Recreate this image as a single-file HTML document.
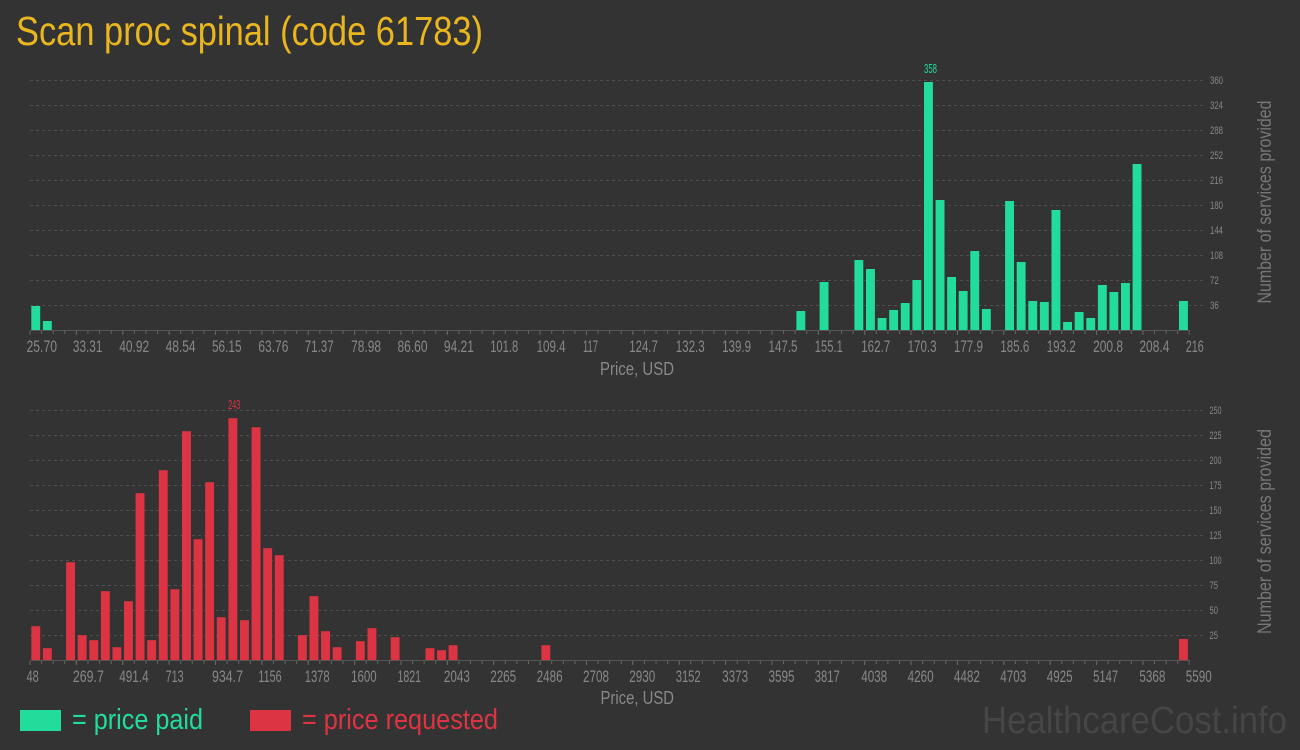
<!DOCTYPE html>
<html><head><meta charset="utf-8"><style>
html,body{margin:0;padding:0;background:#333333;}
svg{display:block;}
text{font-family:"Liberation Sans Narrow","Liberation Sans",sans-serif;}
</style></head><body>
<svg width="1300" height="750" viewBox="0 0 1300 750" xmlns="http://www.w3.org/2000/svg">
<rect width="1300" height="750" fill="#333333"/>
<text x="16" y="45" font-size="41" fill="#e9b61e" textLength="467" lengthAdjust="spacingAndGlyphs">Scan proc spinal (code 61783)</text>

<!-- TOP CHART -->
<g stroke="#4f4f4f" stroke-width="1" stroke-dasharray="3,3">
<line x1="30" y1="305.5" x2="1203" y2="305.5"/><line x1="30" y1="280.5" x2="1203" y2="280.5"/><line x1="30" y1="255.5" x2="1203" y2="255.5"/><line x1="30" y1="230.5" x2="1203" y2="230.5"/><line x1="30" y1="205.5" x2="1203" y2="205.5"/><line x1="30" y1="180.5" x2="1203" y2="180.5"/><line x1="30" y1="155.5" x2="1203" y2="155.5"/><line x1="30" y1="130.5" x2="1203" y2="130.5"/><line x1="30" y1="105.5" x2="1203" y2="105.5"/><line x1="30" y1="80.5" x2="1203" y2="80.5"/>
</g>
<g fill="#888" font-size="11">
<text x="1210" y="309" textLength="8.7" lengthAdjust="spacingAndGlyphs">36</text>
<text x="1210" y="284" textLength="8.7" lengthAdjust="spacingAndGlyphs">72</text>
<text x="1210" y="259" textLength="13" lengthAdjust="spacingAndGlyphs">108</text>
<text x="1210" y="234" textLength="13" lengthAdjust="spacingAndGlyphs">144</text>
<text x="1210" y="209" textLength="13" lengthAdjust="spacingAndGlyphs">180</text>
<text x="1210" y="184" textLength="13" lengthAdjust="spacingAndGlyphs">216</text>
<text x="1210" y="159" textLength="13" lengthAdjust="spacingAndGlyphs">252</text>
<text x="1210" y="134" textLength="13" lengthAdjust="spacingAndGlyphs">288</text>
<text x="1210" y="109" textLength="13" lengthAdjust="spacingAndGlyphs">324</text>
<text x="1210" y="84" textLength="13" lengthAdjust="spacingAndGlyphs">360</text>
</g>
<g fill="#21dc9a">
<rect x="31.3" y="306" width="8.9" height="24.5"/>
<rect x="42.9" y="321" width="8.9" height="9.5"/>
<rect x="796.4" y="311" width="8.9" height="19.5"/>
<rect x="819.6" y="282" width="8.9" height="48.5"/>
<rect x="854.4" y="260" width="8.9" height="70.5"/>
<rect x="866.0" y="269" width="8.9" height="61.5"/>
<rect x="877.6" y="318" width="8.9" height="12.5"/>
<rect x="889.2" y="310" width="8.9" height="20.5"/>
<rect x="900.8" y="303" width="8.9" height="27.5"/>
<rect x="912.4" y="280" width="8.9" height="50.5"/>
<rect x="924.0" y="82" width="8.9" height="248.5"/>
<rect x="935.6" y="200" width="8.9" height="130.5"/>
<rect x="947.1" y="277" width="8.9" height="53.5"/>
<rect x="958.7" y="291" width="8.9" height="39.5"/>
<rect x="970.3" y="251" width="8.9" height="79.5"/>
<rect x="981.9" y="309" width="8.9" height="21.5"/>
<rect x="1005.1" y="201" width="8.9" height="129.5"/>
<rect x="1016.7" y="262" width="8.9" height="68.5"/>
<rect x="1028.3" y="301" width="8.9" height="29.5"/>
<rect x="1039.9" y="302" width="8.9" height="28.5"/>
<rect x="1051.5" y="210" width="8.9" height="120.5"/>
<rect x="1063.1" y="322" width="8.9" height="8.5"/>
<rect x="1074.7" y="312" width="8.9" height="18.5"/>
<rect x="1086.3" y="318" width="8.9" height="12.5"/>
<rect x="1097.9" y="285" width="8.9" height="45.5"/>
<rect x="1109.4" y="292" width="8.9" height="38.5"/>
<rect x="1121.0" y="283" width="8.9" height="47.5"/>
<rect x="1132.6" y="164" width="8.9" height="166.5"/>
<rect x="1179.0" y="301" width="8.9" height="29.5"/>
</g>
<text x="924" y="73" font-size="13" fill="#21dc9a" textLength="13" lengthAdjust="spacingAndGlyphs">358</text>
<line x1="30" y1="330.5" x2="1190" y2="330.5" stroke="#555" stroke-width="1"/>
<line x1="30" y1="332.5" x2="1190" y2="332.5" stroke="#666" stroke-width="3" stroke-dasharray="1 10.593" transform="translate(-0.5,0)"/>
<line x1="30" y1="333" x2="1190" y2="333" stroke="#666" stroke-width="4" stroke-dasharray="1 45.372" transform="translate(-0.5,0)"/>
<g fill="#888" font-size="16.5">
<text x="26.5" y="352" textLength="30.5" lengthAdjust="spacingAndGlyphs">25.70</text>
<text x="72.9" y="352" textLength="29.5" lengthAdjust="spacingAndGlyphs">33.31</text>
<text x="119.2" y="352" textLength="30" lengthAdjust="spacingAndGlyphs">40.92</text>
<text x="165.6" y="352" textLength="30" lengthAdjust="spacingAndGlyphs">48.54</text>
<text x="212" y="352" textLength="29.5" lengthAdjust="spacingAndGlyphs">56.15</text>
<text x="258.4" y="352" textLength="30" lengthAdjust="spacingAndGlyphs">63.76</text>
<text x="304.7" y="352" textLength="29" lengthAdjust="spacingAndGlyphs">71.37</text>
<text x="351.1" y="352" textLength="30" lengthAdjust="spacingAndGlyphs">78.98</text>
<text x="397.5" y="352" textLength="30" lengthAdjust="spacingAndGlyphs">86.60</text>
<text x="443.9" y="352" textLength="30" lengthAdjust="spacingAndGlyphs">94.21</text>
<text x="490.2" y="352" textLength="28" lengthAdjust="spacingAndGlyphs">101.8</text>
<text x="536.6" y="352" textLength="29" lengthAdjust="spacingAndGlyphs">109.4</text>
<text x="583" y="352" textLength="15" lengthAdjust="spacingAndGlyphs">117</text>
<text x="629.3" y="352" textLength="28.5" lengthAdjust="spacingAndGlyphs">124.7</text>
<text x="675.7" y="352" textLength="29" lengthAdjust="spacingAndGlyphs">132.3</text>
<text x="722.1" y="352" textLength="29" lengthAdjust="spacingAndGlyphs">139.9</text>
<text x="768.5" y="352" textLength="29" lengthAdjust="spacingAndGlyphs">147.5</text>
<text x="814.8" y="352" textLength="28" lengthAdjust="spacingAndGlyphs">155.1</text>
<text x="861.2" y="352" textLength="29" lengthAdjust="spacingAndGlyphs">162.7</text>
<text x="907.6" y="352" textLength="29" lengthAdjust="spacingAndGlyphs">170.3</text>
<text x="953.9" y="352" textLength="29" lengthAdjust="spacingAndGlyphs">177.9</text>
<text x="1000.3" y="352" textLength="29" lengthAdjust="spacingAndGlyphs">185.6</text>
<text x="1046.7" y="352" textLength="29" lengthAdjust="spacingAndGlyphs">193.2</text>
<text x="1093.1" y="352" textLength="30" lengthAdjust="spacingAndGlyphs">200.8</text>
<text x="1139.4" y="352" textLength="30" lengthAdjust="spacingAndGlyphs">208.4</text>
<text x="1185.8" y="352" textLength="18" lengthAdjust="spacingAndGlyphs">216</text>
</g>
<text x="600" y="375" font-size="18" fill="#888" textLength="74" lengthAdjust="spacingAndGlyphs">Price, USD</text>
<text transform="translate(1271,202) rotate(-90)" text-anchor="middle" font-size="19" fill="#777" textLength="203" lengthAdjust="spacingAndGlyphs">Number of services provided</text>

<!-- BOTTOM CHART -->
<g stroke="#4f4f4f" stroke-width="1" stroke-dasharray="3,3">
<line x1="30" y1="635.5" x2="1203" y2="635.5"/><line x1="30" y1="610.5" x2="1203" y2="610.5"/><line x1="30" y1="585.5" x2="1203" y2="585.5"/><line x1="30" y1="560.5" x2="1203" y2="560.5"/><line x1="30" y1="535.5" x2="1203" y2="535.5"/><line x1="30" y1="510.5" x2="1203" y2="510.5"/><line x1="30" y1="485.5" x2="1203" y2="485.5"/><line x1="30" y1="460.5" x2="1203" y2="460.5"/><line x1="30" y1="435.5" x2="1203" y2="435.5"/><line x1="30" y1="410.5" x2="1203" y2="410.5"/>
</g>
<g fill="#888" font-size="11">
<text x="1209.5" y="639" textLength="8.5" lengthAdjust="spacingAndGlyphs">25</text>
<text x="1209.5" y="614" textLength="8.5" lengthAdjust="spacingAndGlyphs">50</text>
<text x="1209.5" y="589" textLength="8.5" lengthAdjust="spacingAndGlyphs">75</text>
<text x="1209.5" y="564" textLength="12" lengthAdjust="spacingAndGlyphs">100</text>
<text x="1209.5" y="539" textLength="12" lengthAdjust="spacingAndGlyphs">125</text>
<text x="1209.5" y="514" textLength="12" lengthAdjust="spacingAndGlyphs">150</text>
<text x="1209.5" y="489" textLength="12" lengthAdjust="spacingAndGlyphs">175</text>
<text x="1209.5" y="464" textLength="12" lengthAdjust="spacingAndGlyphs">200</text>
<text x="1209.5" y="439" textLength="12" lengthAdjust="spacingAndGlyphs">225</text>
<text x="1209.5" y="414" textLength="12" lengthAdjust="spacingAndGlyphs">250</text>
</g>
<g fill="#dc3442">
<rect x="31.3" y="626.2" width="8.9" height="34.3"/>
<rect x="42.9" y="648.2" width="8.9" height="12.3"/>
<rect x="66.1" y="562.2" width="8.9" height="98.3"/>
<rect x="77.7" y="635.2" width="8.9" height="25.3"/>
<rect x="89.3" y="640.2" width="8.9" height="20.3"/>
<rect x="100.9" y="591.2" width="8.9" height="69.3"/>
<rect x="112.4" y="647.2" width="8.9" height="13.3"/>
<rect x="124.0" y="601.2" width="8.9" height="59.3"/>
<rect x="135.6" y="493.2" width="8.9" height="167.3"/>
<rect x="147.2" y="640.2" width="8.9" height="20.3"/>
<rect x="158.8" y="470.2" width="8.9" height="190.3"/>
<rect x="170.4" y="589.2" width="8.9" height="71.3"/>
<rect x="182.0" y="431.2" width="8.9" height="229.3"/>
<rect x="193.6" y="539.2" width="8.9" height="121.3"/>
<rect x="205.2" y="482.2" width="8.9" height="178.3"/>
<rect x="216.8" y="617.2" width="8.9" height="43.3"/>
<rect x="228.4" y="418.2" width="8.9" height="242.3"/>
<rect x="240.0" y="620.2" width="8.9" height="40.3"/>
<rect x="251.6" y="427.2" width="8.9" height="233.3"/>
<rect x="263.2" y="548.2" width="8.9" height="112.3"/>
<rect x="274.8" y="555.2" width="8.9" height="105.3"/>
<rect x="297.9" y="635.2" width="8.9" height="25.3"/>
<rect x="309.5" y="596.2" width="8.9" height="64.3"/>
<rect x="321.1" y="631.2" width="8.9" height="29.3"/>
<rect x="332.7" y="647.2" width="8.9" height="13.3"/>
<rect x="355.9" y="641.2" width="8.9" height="19.3"/>
<rect x="367.5" y="628.2" width="8.9" height="32.3"/>
<rect x="390.7" y="637.2" width="8.9" height="23.3"/>
<rect x="425.5" y="648.2" width="8.9" height="12.3"/>
<rect x="437.1" y="650.2" width="8.9" height="10.3"/>
<rect x="448.6" y="645.2" width="8.9" height="15.3"/>
<rect x="541.4" y="645.2" width="8.9" height="15.3"/>
<rect x="1179.0" y="639" width="8.9" height="21.5"/>
</g>
<text x="228.3" y="409" font-size="13" fill="#dc3442" textLength="12" lengthAdjust="spacingAndGlyphs">243</text>
<line x1="30" y1="660.5" x2="1190" y2="660.5" stroke="#555" stroke-width="1"/>
<line x1="30" y1="662.5" x2="1190" y2="662.5" stroke="#666" stroke-width="3" stroke-dasharray="1 10.593" transform="translate(-0.5,0)"/>
<line x1="30" y1="663" x2="1190" y2="663" stroke="#666" stroke-width="4" stroke-dasharray="1 45.372" transform="translate(-0.5,0)"/>
<g fill="#888" font-size="16.5">
<text x="26.5" y="682" textLength="12.3" lengthAdjust="spacingAndGlyphs">48</text>
<text x="72.9" y="682" textLength="31" lengthAdjust="spacingAndGlyphs">269.7</text>
<text x="119.2" y="682" textLength="29.5" lengthAdjust="spacingAndGlyphs">491.4</text>
<text x="165.6" y="682" textLength="18" lengthAdjust="spacingAndGlyphs">713</text>
<text x="212" y="682" textLength="31" lengthAdjust="spacingAndGlyphs">934.7</text>
<text x="258.4" y="682" textLength="23.3" lengthAdjust="spacingAndGlyphs">1156</text>
<text x="304.7" y="682" textLength="25" lengthAdjust="spacingAndGlyphs">1378</text>
<text x="351.1" y="682" textLength="25.5" lengthAdjust="spacingAndGlyphs">1600</text>
<text x="397.5" y="682" textLength="23.5" lengthAdjust="spacingAndGlyphs">1821</text>
<text x="443.9" y="682" textLength="26" lengthAdjust="spacingAndGlyphs">2043</text>
<text x="490.2" y="682" textLength="26" lengthAdjust="spacingAndGlyphs">2265</text>
<text x="536.6" y="682" textLength="26" lengthAdjust="spacingAndGlyphs">2486</text>
<text x="583" y="682" textLength="26" lengthAdjust="spacingAndGlyphs">2708</text>
<text x="629.3" y="682" textLength="26" lengthAdjust="spacingAndGlyphs">2930</text>
<text x="675.7" y="682" textLength="25" lengthAdjust="spacingAndGlyphs">3152</text>
<text x="722.1" y="682" textLength="26" lengthAdjust="spacingAndGlyphs">3373</text>
<text x="768.5" y="682" textLength="26" lengthAdjust="spacingAndGlyphs">3595</text>
<text x="814.8" y="682" textLength="25" lengthAdjust="spacingAndGlyphs">3817</text>
<text x="861.2" y="682" textLength="26" lengthAdjust="spacingAndGlyphs">4038</text>
<text x="907.6" y="682" textLength="26" lengthAdjust="spacingAndGlyphs">4260</text>
<text x="953.9" y="682" textLength="26" lengthAdjust="spacingAndGlyphs">4482</text>
<text x="1000.3" y="682" textLength="26" lengthAdjust="spacingAndGlyphs">4703</text>
<text x="1046.7" y="682" textLength="26" lengthAdjust="spacingAndGlyphs">4925</text>
<text x="1093.1" y="682" textLength="25" lengthAdjust="spacingAndGlyphs">5147</text>
<text x="1139.4" y="682" textLength="26" lengthAdjust="spacingAndGlyphs">5368</text>
<text x="1185.8" y="682" textLength="26" lengthAdjust="spacingAndGlyphs">5590</text>
</g>
<text x="600.5" y="704" font-size="18" fill="#888" textLength="73.5" lengthAdjust="spacingAndGlyphs">Price, USD</text>
<text transform="translate(1271,531.5) rotate(-90)" text-anchor="middle" font-size="19" fill="#777" textLength="205" lengthAdjust="spacingAndGlyphs">Number of services provided</text>

<!-- LEGEND -->
<rect x="20" y="710" width="41" height="21" fill="#21dc9a"/>
<text x="72" y="729" font-size="29" fill="#21dc9a" textLength="131" lengthAdjust="spacingAndGlyphs">= price paid</text>
<rect x="250" y="710" width="41" height="21" fill="#dc3442"/>
<text x="302" y="729" font-size="29" fill="#dc3442" textLength="196" lengthAdjust="spacingAndGlyphs">= price requested</text>
<text x="982" y="733" font-size="38" fill="#464646" textLength="305" lengthAdjust="spacingAndGlyphs">HealthcareCost.info</text>
</svg>
</body></html>
